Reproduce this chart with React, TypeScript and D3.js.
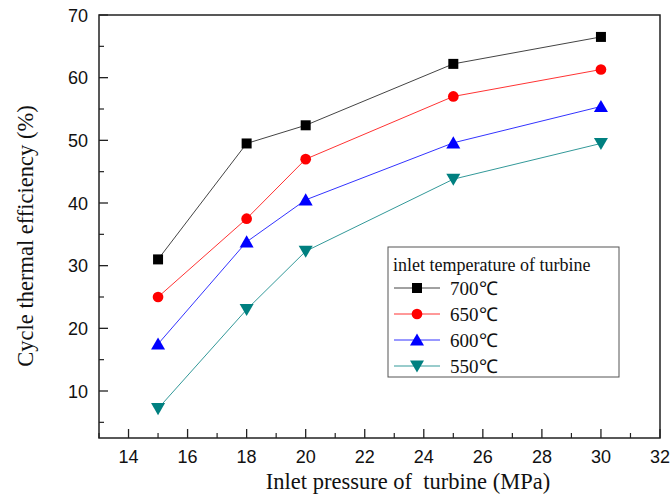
import React from "react";
import * as d3 from "d3";

const pressures = [15, 18, 20, 25, 30];
const seriesNames = ["700℃", "650℃", "600℃", "550℃"];
const eff700 = [31.0, 49.5, 52.4, 62.2, 66.5];
const eff650 = [25.0, 37.5, 47.0, 57.0, 61.3];
const eff600 = [17.5, 33.8, 40.5, 49.6, 55.4];
const eff550 = [7.2, 23.0, 32.3, 43.8, 49.5];
const xTicks = [14, 16, 18, 20, 22, 24, 26, 28, 30, 32];
const yTicks = [10, 20, 30, 40, 50, 60, 70];

const colors = ["#000000", "#ff0000", "#0000ff", "#008080"];
const lineColors = ["#444444", "#ff3333", "#3333ff", "#339999"];
const shapes = [d3.symbolSquare, d3.symbolCircle, d3.symbolTriangle, d3.symbolTriangle];

const W = 672;
const H = 500;
const left = 99;
const right = 660;
const top = 15;
const bottom = 438;

export default function App() {
  const x = d3.scaleLinear().domain([13, 32]).range([left, right]);
  const y = d3.scaleLinear().domain([2.5, 70]).range([bottom, top]);
  const allSeries = [eff700, eff650, eff600, eff550];
  const line = d3
    .line<number>()
    .x((_, i) => x(pressures[i]))
    .y((d) => y(d));

  const minorX = d3.range(13, 32, 1).filter((v) => v % 2 !== 0);
  const minorY = d3.range(5, 70, 10);

  // marker glyph per series
  const marker = (k: number, cx: number, cy: number, key: string) => {
    const sym = d3.symbol().type(shapes[k]).size(k === 0 ? 100 : k === 1 ? 90 : 85)();
    const rot = k === 3 ? 180 : 0;
    const dy = k === 2 ? 1.5 : k === 3 ? -1.5 : 0;
    return (
      <path
        key={key}
        d={sym || ""}
        transform={`translate(${cx},${cy + dy}) rotate(${rot})`}
        fill={colors[k]}
      />
    );
  };

  const legX = 388;
  const legY = 247;
  const legW = 231;
  const legH = 130;

  return (
    <svg width={W} height={H} style={{ position: "absolute", left: 0, top: 0, background: "#fff" }}>
      <rect x={0} y={0} width={W} height={H} fill="#fff" />
      {allSeries.map((s, k) => (
        <g key={k}>
          <path d={line(s) || ""} fill="none" stroke={lineColors[k]} strokeWidth={1} />
          {s.map((v, i) => marker(k, x(pressures[i]), y(v), `m${k}-${i}`))}
        </g>
      ))}
      <rect x={left} y={top} width={right - left} height={bottom - top} fill="none" stroke="#222" strokeWidth={1.5} />
      {xTicks.map((t) => (
        <g key={`xt${t}`}>
          <line x1={x(t)} x2={x(t)} y1={bottom} y2={bottom - 9} stroke="#222" strokeWidth={1.3} />
          <text x={x(t)} y={bottom + 25} textAnchor="middle" fontFamily="Liberation Sans, Arial" fontSize={18} fill="#111">
            {t}
          </text>
        </g>
      ))}
      {minorX.map((t) => (
        <line key={`xm${t}`} x1={x(t)} x2={x(t)} y1={bottom} y2={bottom - 5} stroke="#222" strokeWidth={1.2} />
      ))}
      {yTicks.map((t) => (
        <g key={`yt${t}`}>
          <line x1={left} x2={left + 9} y1={y(t)} y2={y(t)} stroke="#222" strokeWidth={1.3} />
          <text x={left - 11} y={y(t) + 6.5} textAnchor="end" fontFamily="Liberation Sans, Arial" fontSize={18} fill="#111">
            {t}
          </text>
        </g>
      ))}
      {minorY.map((t) => (
        <line key={`ym${t}`} x1={left} x2={left + 5} y1={y(t)} y2={y(t)} stroke="#222" strokeWidth={1.2} />
      ))}
      <text x={408} y={489} textAnchor="middle" fontFamily="Liberation Serif, Times New Roman" fontSize={22.5} fill="#111" style={{ whiteSpace: "pre" }}>
        {"Inlet pressure of  turbine (MPa)"}
      </text>
      <text
        transform={`translate(33,236) rotate(-90)`}
        textAnchor="middle"
        fontFamily="Liberation Serif, Times New Roman"
        fontSize={22.5}
        fill="#111"
      >
        Cycle thermal efficiency (%)
      </text>
      {/* legend */}
      <rect x={legX} y={legY} width={legW} height={legH} fill="#fff" stroke="#555" strokeWidth={1} />
      <text x={legX + 5} y={legY + 24} fontFamily="Liberation Serif, Times New Roman" fontSize={18} fill="#111">
        inlet temperature of turbine
      </text>
      {seriesNames.map((name, k) => {
        const ry = legY + 41 + k * 26;
        return (
          <g key={`lg${k}`}>
            <line x1={legX + 6} x2={legX + 52} y1={ry} y2={ry} stroke={lineColors[k]} strokeWidth={1} />
            {marker(k, legX + 29, ry, `lm${k}`)}
            <text x={legX + 62} y={ry + 7} fontFamily="Liberation Serif, Times New Roman" fontSize={19} fill="#111">
              {name}
            </text>
          </g>
        );
      })}
    </svg>
  );
}
